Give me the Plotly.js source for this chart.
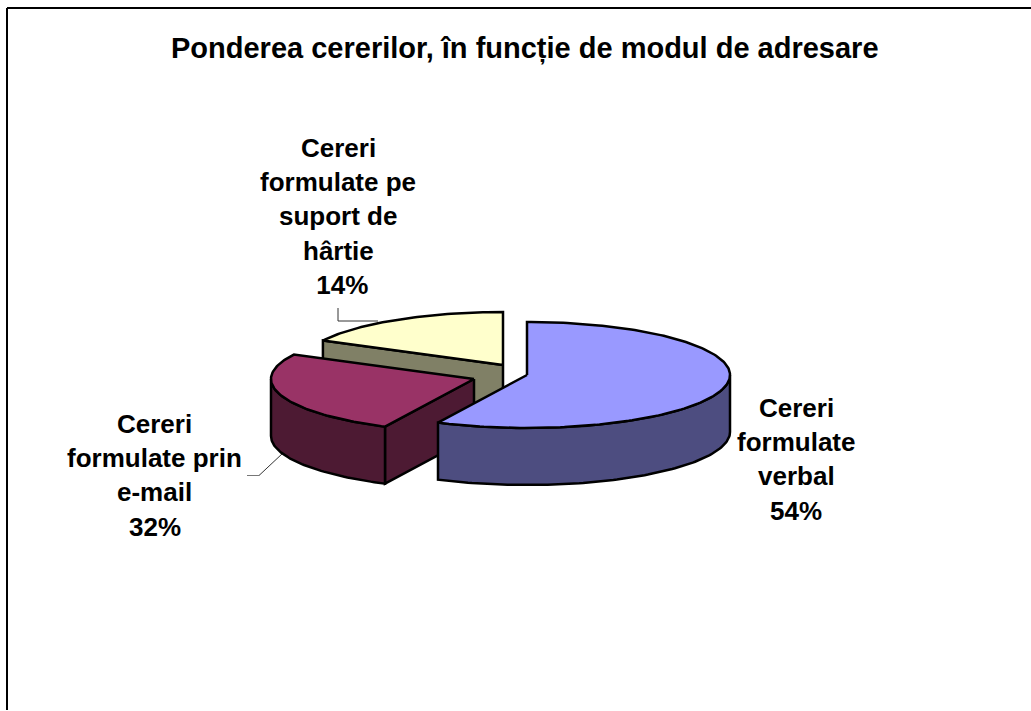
<!DOCTYPE html>
<html><head><meta charset="utf-8">
<script src="https://cdn.plot.ly/plotly-3.0.1.min.js"></script>
<style>html,body{margin:0;padding:0;background:#fff}</style></head>
<body><div id="chart" style="width:1031px;height:711px"></div>
<script>
const chartTitle = "Ponderea cererilor, în funcție de modul de adresare";
const categories = ["Cereri formulate verbal", "Cereri formulate prin e-mail", "Cereri formulate pe suport de hârtie"];
const shares = [54, 32, 14];
const labelLines = [
  ["Cereri", "formulate", "verbal", "54%"],
  ["Cereri", "formulate prin", "e-mail", "32%"],
  ["Cereri", "formulate pe", "suport de", "hârtie", " 14%"]
];
const topColors = ["#9999ff", "#993366", "#ffffcc"];
const sideColors = ["#4d4d80", "#4d1a33", "#808066"];

// Pseudo-3D projection of the pie (pixels of the plot area)
const apexes = [[527, 375], [474, 379], [503, 365]];   // exploded slice apex
const RX = 203, RY = 53, DEPTH = 57;
const WARP_FRONT = 1.9, WARP_BACK = 1.59;              // perspective stretch of the angles
const labelX = [796, 154.5, 338], labelY0 = [408, 424, 148], LINE = 34.2;

const warp = t => {            // t: clockwise angle from 12 o'clock, radians
  const k = Math.cos(t) < 0 ? WARP_FRONT : WARP_BACK;
  let a = Math.atan2(k * Math.sin(t), Math.cos(t));
  if (a < 0) a += 2 * Math.PI;
  return a;
};
const onRim = (i, a, dy) => [apexes[i][0] + RX * Math.sin(a), apexes[i][1] - RY * Math.cos(a) + (dy || 0)];
const arc = (i, a0, a1, dy) => {
  const n = Math.max(2, Math.ceil(Math.abs(a1 - a0) / 0.02)), pts = [];
  for (let k = 0; k <= n; k++) pts.push(onRim(i, a0 + (a1 - a0) * k / n, dy));
  return pts;
};
const traces = [];
const poly = (pts, fill) => traces.push({
  type: "scatter", mode: "lines", x: pts.concat([pts[0]]).map(p => p[0]), y: pts.concat([pts[0]]).map(p => p[1]),
  fill: "toself", fillcolor: fill, line: {color: "#000", width: 2.5}, hoverinfo: "skip", showlegend: false
});

const total = shares.reduce((a, b) => a + b, 0);
let cum = 0;
const slices = shares.map((v, i) => {
  const t0 = cum / total * 2 * Math.PI; cum += v;
  const t1 = cum / total * 2 * Math.PI;
  return {i, a0: i === 0 ? 0 : warp(t0), a1: i === shares.length - 1 ? 2 * Math.PI : warp(t1)};
});

// back to front: paper, e-mail, verbal
[2, 1, 0].forEach(i => {
  const s = slices[i], ap = apexes[i];
  // radial cut face that looks at the viewer
  if (i > 0) {
    const e = onRim(i, s.a0);
    poly([ap, e, [e[0], e[1] + DEPTH], [ap[0], ap[1] + DEPTH]], sideColors[i]);
  }
  // outer wall: only the front half of the rim is visible
  const w0 = Math.max(s.a0, Math.PI / 2), w1 = Math.min(s.a1, 3 * Math.PI / 2);
  if (w1 > w0) poly(arc(i, w0, w1).concat(arc(i, w1, w0, DEPTH)), sideColors[i]);
  // top face
  poly([ap].concat(arc(i, s.a0, s.a1)), topColors[i]);
});

const annotations = [{
  text: "<b>" + chartTitle + "</b>", x: 525, y: 48, xref: "x", yref: "y", showarrow: false,
  xanchor: "center", yanchor: "middle", font: {family: "Liberation Sans", size: 29, color: "#000"}
}];
labelLines.forEach((lines, i) => lines.forEach((txt, k) => annotations.push({
  text: "<b>" + txt + "</b>", x: labelX[i], y: labelY0[i] + k * LINE, xref: "x", yref: "y", showarrow: false,
  xanchor: "center", yanchor: "middle", font: {family: "Liberation Sans", size: 26, color: "#000"}
})));

const seg = (x0, y0, x1, y1, color, width) => ({type: "line", xref: "x", yref: "y", x0, y0, x1, y1, line: {color, width}, layer: "below"});
const shapes = [
  seg(7, 8, 1031, 8, "#000", 2),
  seg(7, 8, 7, 710, "#000", 2),
  seg(338, 308, 338, 321, "#333", 1),
  seg(338, 321, 378, 321, "#333", 1),
  seg(247, 475.5, 259, 475.5, "#777", 1),
  seg(259, 475.5, 283, 453, "#333", 1)
];

Plotly.newPlot("chart", traces, {
  width: 1031, height: 711, margin: {l: 0, r: 0, t: 0, b: 0},
  paper_bgcolor: "#fff", plot_bgcolor: "#fff", showlegend: false,
  xaxis: {range: [0, 1031], visible: false, fixedrange: true},
  yaxis: {range: [711, 0], visible: false, fixedrange: true},
  annotations, shapes
}, {displayModeBar: false, staticPlot: true});
</script></body></html>
